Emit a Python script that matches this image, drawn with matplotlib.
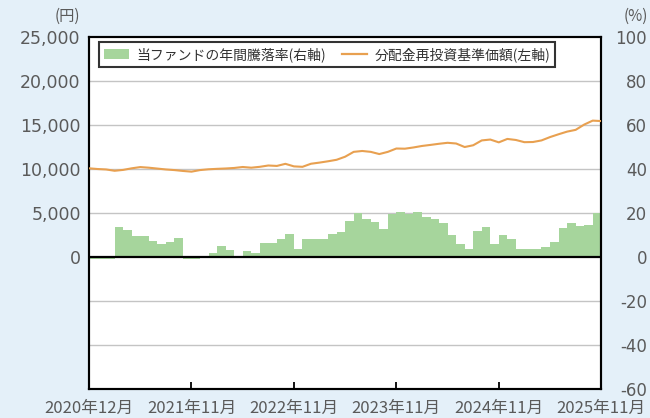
import numpy as np
import matplotlib.pyplot as plt
from matplotlib.patches import Patch
from matplotlib.lines import Line2D

plt.rcParams['font.family'] = ['Noto Sans CJK JP', 'DejaVu Sans']
plt.rcParams['axes.unicode_minus'] = False

# 年間騰落率 (%), 2020年12月〜2025年11月 の月次
annual_return = [-0.8, -0.8, -0.8, 13.5, 12.5, 9.5, 9.5, 7.3, 6.0, 7.0,
                 8.5, -1.0, -1.0, 0.3, 1.8, 4.8, 3.0, 0.5, 2.8, 2.0,
                 6.3, 6.3, 8.0, 10.3, 3.7, 8.0, 8.0, 8.0, 10.3, 11.5,
                 16.5, 20.0, 17.5, 15.7, 12.7, 19.5, 20.5, 19.5, 20.3, 18.3,
                 17.2, 15.5, 10.2, 5.7, 3.8, 12.0, 13.8, 5.8, 10.0, 8.0,
                 3.6, 3.6, 3.6, 4.6, 6.8, 13.0, 15.3, 14.0, 14.5, 20.0]

# 分配金再投資基準価額 (円)
nav = [10080, 10000, 9950, 9800, 9900, 10080, 10220, 10150, 10050, 9950,
       9880, 9780, 9700, 9880, 9970, 10020, 10060, 10120, 10230, 10150,
       10250, 10400, 10350, 10590, 10300, 10250, 10600, 10730, 10880, 11050,
       11400, 11950, 12050, 11950, 11700, 11950, 12330, 12310, 12450, 12620,
       12740, 12870, 12980, 12900, 12500, 12700, 13250, 13350, 13030, 13420,
       13300, 13050, 13070, 13250, 13630, 13950, 14250, 14450, 15050, 15500,
       15450]

tick_pos = [0, 12, 24, 36, 48, 60]
tick_labels = ['2020年12月', '2021年11月', '2022年11月', '2023年11月', '2024年11月', '2025年11月']

bg = '#e4f0f9'
bar_color = '#a6d59c'
line_color = '#e8a050'
grey = '#5a5a5a'

fig = plt.figure(figsize=(6.5, 4.18), dpi=100, facecolor=bg)
ax = fig.add_axes([0.137, 0.0694, 0.788, 0.842])
ax.set_facecolor('white')
ax2 = ax.twinx()

# bars on the % axis (right side)
x_bar = np.arange(len(annual_return)) + 0.5
ax.bar(x_bar, annual_return, width=1.0, color=bar_color, linewidth=0, zorder=2)
ax.axhline(0, color='black', lw=1.6, zorder=3)
for v in [-40, -20, 20, 40, 60, 80]:
    ax.axhline(v, color='#c4c4c4', lw=1.0, zorder=1)
ax.set_ylim(-60, 100)
ax.set_yticks(np.arange(-60, 101, 20))
ax.yaxis.tick_right()
ax.tick_params(axis='y', length=0, pad=33, labelsize=12, labelcolor=grey)
for lab in ax.get_yticklabels():
    lab.set_ha('right')
    lab.set_family('DejaVu Sans')

ax.set_xlim(0, 60)
ax.set_xticks(tick_pos)
ax.set_xticklabels(tick_labels)
ax.tick_params(axis='x', direction='in', length=5, width=1.3, labelsize=12,
               labelcolor=grey, pad=8)

# line on the yen axis (left side)
ax2.plot(np.arange(len(nav)), nav, color=line_color, lw=1.5, zorder=3)
ax2.set_ylim(-15000, 25000)
ax2.set_yticks(np.arange(0, 25001, 5000))
ax2.set_yticklabels([f'{v:,}' for v in range(0, 25001, 5000)])
ax2.yaxis.tick_left()
ax2.tick_params(axis='y', length=0, pad=6, labelsize=12.5, labelcolor=grey)
for lab in ax2.get_yticklabels():
    lab.set_family('DejaVu Sans')

for a in (ax, ax2):
    for s in a.spines.values():
        s.set_color('black')
        s.set_linewidth(1.5)

handles = [Patch(facecolor=bar_color, edgecolor='none'),
           Line2D([0], [0], color=line_color, lw=1.6)]
labels = ['当ファンドの年間騰落率(右軸)', '分配金再投資基準価額(左軸)']
leg = ax2.legend(handles, labels, loc='upper left', bbox_to_anchor=(0.02, 0.985),
                 ncol=2, fontsize=10, frameon=True, fancybox=False,
                 edgecolor='black', borderpad=0.35, handlelength=1.8,
                 handletextpad=0.5, columnspacing=1.2, borderaxespad=0)
leg.get_frame().set_linewidth(1.5)
for t in leg.get_texts():
    t.set_color('#333333')

fig.text(0.123, 0.962, '(円)', ha='right', va='center', fontsize=11, color=grey)
fig.text(0.997, 0.962, '(%)', ha='right', va='center', fontsize=11, color=grey)

fig.savefig('out.png', dpi=100, facecolor=bg)
